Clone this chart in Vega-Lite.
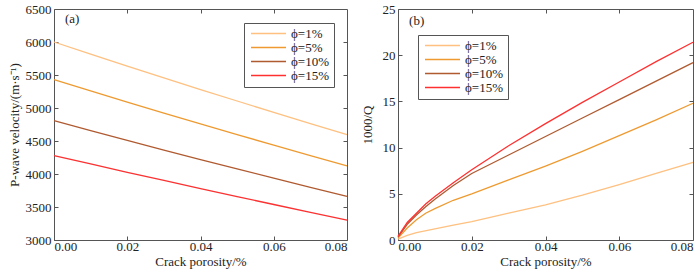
{
  "$schema": "https://vega.github.io/schema/vega-lite/v6.json",
  "padding": {"left": 7, "top": 2, "right": 0, "bottom": 0},
  "background": "white",
  "config": {
    "font": "Times New Roman",
    "view": {"stroke": "#555555", "strokeWidth": 1},
    "axis": {
      "domain": false, "grid": false, "tickColor": "#555555", "tickSize": -4,
      "labelFont": "Times New Roman", "labelFontSize": 13, "labelColor": "#222222",
      "titleFont": "Times New Roman", "titleFontSize": 13, "titleFontWeight": "normal", "titleColor": "#222222",
      "labelPadding": 4
    },
    "axisY": {"labelPadding": 7},
    "text": {"font": "Times New Roman"},
    "legend": {
      "labelFont": "Times New Roman", "labelFontSize": 13, "labelColor": "#222222",
      "strokeColor": "#555555", "fillColor": "white", "padding": 4,
      "symbolType": "M-3.5,0H3.5", "symbolStrokeWidth": 1.5, "symbolSize": 100, "rowPadding": 0, "symbolOffset": 14, "labelOffset": 16
    }
  },
  "datasets": {
    "vel": [
      {"c": 0.00, "phi": "ϕ=1%", "v": 6000}, {"c": 0.01, "phi": "ϕ=1%", "v": 5815}, {"c": 0.02, "phi": "ϕ=1%", "v": 5634}, {"c": 0.03, "phi": "ϕ=1%", "v": 5456}, {"c": 0.04, "phi": "ϕ=1%", "v": 5280}, {"c": 0.05, "phi": "ϕ=1%", "v": 5106}, {"c": 0.06, "phi": "ϕ=1%", "v": 4934}, {"c": 0.07, "phi": "ϕ=1%", "v": 4764}, {"c": 0.08, "phi": "ϕ=1%", "v": 4595},
      {"c": 0.00, "phi": "ϕ=5%", "v": 5430}, {"c": 0.01, "phi": "ϕ=5%", "v": 5258}, {"c": 0.02, "phi": "ϕ=5%", "v": 5089}, {"c": 0.03, "phi": "ϕ=5%", "v": 4923}, {"c": 0.04, "phi": "ϕ=5%", "v": 4759}, {"c": 0.05, "phi": "ϕ=5%", "v": 4597}, {"c": 0.06, "phi": "ϕ=5%", "v": 4437}, {"c": 0.07, "phi": "ϕ=5%", "v": 4279}, {"c": 0.08, "phi": "ϕ=5%", "v": 4123},
      {"c": 0.00, "phi": "ϕ=10%", "v": 4810}, {"c": 0.01, "phi": "ϕ=10%", "v": 4658}, {"c": 0.02, "phi": "ϕ=10%", "v": 4509}, {"c": 0.03, "phi": "ϕ=10%", "v": 4363}, {"c": 0.04, "phi": "ϕ=10%", "v": 4219}, {"c": 0.05, "phi": "ϕ=10%", "v": 4077}, {"c": 0.06, "phi": "ϕ=10%", "v": 3937}, {"c": 0.07, "phi": "ϕ=10%", "v": 3798}, {"c": 0.08, "phi": "ϕ=10%", "v": 3660},
      {"c": 0.00, "phi": "ϕ=15%", "v": 4280}, {"c": 0.01, "phi": "ϕ=15%", "v": 4152}, {"c": 0.02, "phi": "ϕ=15%", "v": 4026}, {"c": 0.03, "phi": "ϕ=15%", "v": 3902}, {"c": 0.04, "phi": "ϕ=15%", "v": 3779}, {"c": 0.05, "phi": "ϕ=15%", "v": 3658}, {"c": 0.06, "phi": "ϕ=15%", "v": 3538}, {"c": 0.07, "phi": "ϕ=15%", "v": 3419}, {"c": 0.08, "phi": "ϕ=15%", "v": 3300}
    ],
    "q": [
      {"c": 0.0, "phi": "ϕ=1%", "q": 0.1}, {"c": 0.0025, "phi": "ϕ=1%", "q": 0.5}, {"c": 0.005, "phi": "ϕ=1%", "q": 0.8}, {"c": 0.01, "phi": "ϕ=1%", "q": 1.2}, {"c": 0.015, "phi": "ϕ=1%", "q": 1.6}, {"c": 0.02, "phi": "ϕ=1%", "q": 2.0}, {"c": 0.03, "phi": "ϕ=1%", "q": 2.9}, {"c": 0.04, "phi": "ϕ=1%", "q": 3.8}, {"c": 0.05, "phi": "ϕ=1%", "q": 4.85}, {"c": 0.06, "phi": "ϕ=1%", "q": 6.0}, {"c": 0.07, "phi": "ϕ=1%", "q": 7.2}, {"c": 0.08, "phi": "ϕ=1%", "q": 8.4},
      {"c": 0.0, "phi": "ϕ=5%", "q": 0.2}, {"c": 0.0025, "phi": "ϕ=5%", "q": 1.3}, {"c": 0.005, "phi": "ϕ=5%", "q": 2.2}, {"c": 0.0075, "phi": "ϕ=5%", "q": 2.9}, {"c": 0.01, "phi": "ϕ=5%", "q": 3.4}, {"c": 0.015, "phi": "ϕ=5%", "q": 4.3}, {"c": 0.02, "phi": "ϕ=5%", "q": 5.0}, {"c": 0.03, "phi": "ϕ=5%", "q": 6.5}, {"c": 0.04, "phi": "ϕ=5%", "q": 8.0}, {"c": 0.05, "phi": "ϕ=5%", "q": 9.6}, {"c": 0.06, "phi": "ϕ=5%", "q": 11.3}, {"c": 0.07, "phi": "ϕ=5%", "q": 13.0}, {"c": 0.08, "phi": "ϕ=5%", "q": 14.8},
      {"c": 0.0, "phi": "ϕ=10%", "q": 0.3}, {"c": 0.0025, "phi": "ϕ=10%", "q": 1.7}, {"c": 0.005, "phi": "ϕ=10%", "q": 2.7}, {"c": 0.0075, "phi": "ϕ=10%", "q": 3.6}, {"c": 0.01, "phi": "ϕ=10%", "q": 4.4}, {"c": 0.015, "phi": "ϕ=10%", "q": 5.9}, {"c": 0.02, "phi": "ϕ=10%", "q": 7.2}, {"c": 0.03, "phi": "ϕ=10%", "q": 9.2}, {"c": 0.04, "phi": "ϕ=10%", "q": 11.2}, {"c": 0.05, "phi": "ϕ=10%", "q": 13.2}, {"c": 0.06, "phi": "ϕ=10%", "q": 15.2}, {"c": 0.07, "phi": "ϕ=10%", "q": 17.2}, {"c": 0.08, "phi": "ϕ=10%", "q": 19.2},
      {"c": 0.0, "phi": "ϕ=15%", "q": 0.4}, {"c": 0.0025, "phi": "ϕ=15%", "q": 1.9}, {"c": 0.005, "phi": "ϕ=15%", "q": 2.9}, {"c": 0.0075, "phi": "ϕ=15%", "q": 3.9}, {"c": 0.01, "phi": "ϕ=15%", "q": 4.7}, {"c": 0.015, "phi": "ϕ=15%", "q": 6.2}, {"c": 0.02, "phi": "ϕ=15%", "q": 7.6}, {"c": 0.03, "phi": "ϕ=15%", "q": 10.2}, {"c": 0.04, "phi": "ϕ=15%", "q": 12.6}, {"c": 0.05, "phi": "ϕ=15%", "q": 14.9}, {"c": 0.06, "phi": "ϕ=15%", "q": 17.1}, {"c": 0.07, "phi": "ϕ=15%", "q": 19.3}, {"c": 0.08, "phi": "ϕ=15%", "q": 21.4}
    ],
    "lab_a": [{"c": 0.003, "v": 6350, "t": "(a)"}],
    "lab_b": [{"c": 0.003, "q": 23.7, "t": "(b)"}]
  },
  "hconcat": [
    {
      "width": 293, "height": 231,
      "resolve": {"axis": {"x": "independent", "y": "independent"}},
      "layer": [
        {
          "data": {"name": "vel"},
          "mark": {"type": "line", "strokeWidth": 1.3},
          "encoding": {
            "x": {"field": "c", "type": "quantitative", "scale": {"domain": [0, 0.08], "nice": false},
                  "axis": {"values": [0, 0.02, 0.04, 0.06, 0.08], "format": ".2f", "title": "Crack porosity/%", "titlePadding": 2}},
            "y": {"field": "v", "type": "quantitative", "scale": {"domain": [3000, 6500], "nice": false, "zero": false},
                  "axis": {"values": [3000, 3500, 4000, 4500, 5000, 5500, 6000, 6500], "format": "d", "title": "P-wave velocity/(m·s⁻¹)", "titlePadding": 4}},
            "color": {"field": "phi", "type": "nominal",
                      "scale": {"domain": ["ϕ=1%", "ϕ=5%", "ϕ=10%", "ϕ=15%"], "range": ["#ffc080", "#ee9a30", "#b05a30", "#ff3030"]},
                      "legend": {"title": null, "orient": "none", "legendX": 190, "legendY": 14}}
          }
        },
        {
          "data": {"name": "lab_a"},
          "mark": {"type": "text", "align": "left", "baseline": "middle", "fontSize": 13, "font": "Times New Roman", "color": "#222222"},
          "encoding": {
            "x": {"field": "c", "type": "quantitative", "axis": {"orient": "top", "labels": false, "title": null, "values": [0.02, 0.04, 0.06]}},
            "y": {"field": "v", "type": "quantitative", "axis": {"orient": "right", "labels": false, "title": null, "values": [3500, 4000, 4500, 5000, 5500, 6000]}},
            "text": {"field": "t"}
          }
        }
      ]
    },
    {
      "width": 295, "height": 231,
      "resolve": {"axis": {"x": "independent", "y": "independent"}},
      "layer": [
        {
          "data": {"name": "q"},
          "mark": {"type": "line", "strokeWidth": 1.3},
          "encoding": {
            "x": {"field": "c", "type": "quantitative", "scale": {"domain": [0, 0.08], "nice": false},
                  "axis": {"values": [0, 0.02, 0.04, 0.06, 0.08], "format": ".2f", "title": "Crack porosity/%", "titlePadding": 2}},
            "y": {"field": "q", "type": "quantitative", "scale": {"domain": [0, 25], "nice": false},
                  "axis": {"values": [0, 5, 10, 15, 20, 25], "format": "d", "title": "1000/Q", "titlePadding": 8}},
            "color": {"field": "phi", "type": "nominal",
                      "scale": {"domain": ["ϕ=1%", "ϕ=5%", "ϕ=10%", "ϕ=15%"], "range": ["#ffc080", "#ee9a30", "#b05a30", "#ff3030"]},
                      "legend": {"title": null, "orient": "none", "legendX": 20, "legendY": 26}}
          }
        },
        {
          "data": {"name": "lab_b"},
          "mark": {"type": "text", "align": "left", "baseline": "middle", "fontSize": 13, "font": "Times New Roman", "color": "#222222"},
          "encoding": {
            "x": {"field": "c", "type": "quantitative", "axis": {"orient": "top", "labels": false, "title": null, "values": [0.02, 0.04, 0.06]}},
            "y": {"field": "q", "type": "quantitative", "axis": {"orient": "right", "labels": false, "title": null, "values": [5, 10, 15, 20]}},
            "text": {"field": "t"}
          }
        }
      ]
    }
  ],
  "resolve": {"scale": {"color": "independent"}, "legend": {"color": "independent"}},
  "spacing": 9
}
